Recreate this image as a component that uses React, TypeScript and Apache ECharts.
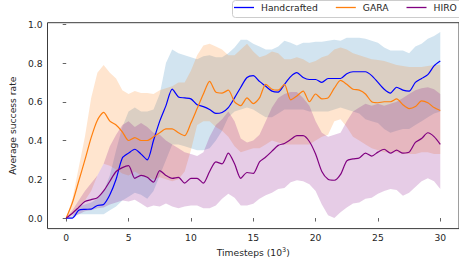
import { useEffect, useRef } from 'react';
import * as echarts from 'echarts';

// sample spacing along the x axis (thousands of timesteps)
const STEP = 0.5;
const X_TICKS = [0, 5, 10, 15, 20, 25, 30];
const Y_TICKS = [0, 0.2, 0.4, 0.6, 0.8, 1.0];
const NAMES = ['Handcrafted', 'GARA', 'HIRO'];

const HAND = [
  0, 0, 0.04, 0.045, 0.046, 0.065, 0.07, 0.12, 0.2, 0.31,
  0.335, 0.355, 0.33, 0.3, 0.4, 0.5, 0.58, 0.665, 0.625, 0.62,
  0.615, 0.585, 0.575, 0.56, 0.54, 0.545, 0.57, 0.62, 0.675, 0.725,
  0.735, 0.705, 0.68, 0.655, 0.65, 0.69, 0.73, 0.75, 0.725, 0.715,
  0.715, 0.7, 0.72, 0.72, 0.72, 0.745, 0.755, 0.755, 0.755, 0.735,
  0.7, 0.665, 0.645, 0.675, 0.66, 0.655, 0.7, 0.72, 0.74, 0.785, 0.81,
];
const HAND_HI = [
  0, 0.01, 0.06, 0.07, 0.08, 0.1, 0.14, 0.22, 0.35, 0.47,
  0.55, 0.57, 0.55, 0.55, 0.56, 0.64, 0.8, 0.87, 0.85, 0.84,
  0.83, 0.82, 0.835, 0.84, 0.83, 0.83, 0.85, 0.88, 0.92, 0.92,
  0.9, 0.885, 0.87, 0.87, 0.885, 0.915, 0.905, 0.89, 0.905, 0.905,
  0.91, 0.91, 0.915, 0.92, 0.915, 0.93, 0.93, 0.93, 0.925, 0.915,
  0.905, 0.88, 0.865, 0.865, 0.865, 0.85, 0.885, 0.9, 0.925, 0.94, 0.96,
];
const HAND_LO = [
  0, 0, 0.02, 0.02, 0.02, 0.02, 0.02, 0.04, 0.06, 0.09,
  0.11, 0.13, 0.12, 0.1, 0.14, 0.22, 0.3, 0.38, 0.38, 0.37,
  0.36, 0.35, 0.35, 0.36, 0.4, 0.45, 0.52, 0.55, 0.56, 0.57,
  0.56, 0.54, 0.52, 0.52, 0.54, 0.56, 0.56, 0.56, 0.56, 0.55,
  0.55, 0.55, 0.55, 0.56, 0.57, 0.56, 0.55, 0.54, 0.51, 0.5,
  0.49, 0.46, 0.44, 0.45, 0.46, 0.46, 0.48, 0.5, 0.52, 0.54, 0.55,
];

const GARA = [
  0, 0.08, 0.19, 0.3, 0.415, 0.505, 0.545, 0.5, 0.48, 0.445,
  0.4, 0.415, 0.4, 0.4, 0.42, 0.44, 0.46, 0.46, 0.44, 0.425,
  0.49, 0.565, 0.64, 0.705, 0.65, 0.645, 0.66, 0.6, 0.58, 0.62,
  0.59, 0.62, 0.69, 0.665, 0.66, 0.69, 0.61, 0.63, 0.655, 0.6,
  0.64, 0.615, 0.62, 0.67, 0.71, 0.69, 0.665, 0.66, 0.64, 0.6,
  0.595, 0.6, 0.6, 0.615, 0.585, 0.565, 0.575, 0.605, 0.595, 0.57, 0.555,
];
const GARA_HI = [
  0, 0.1, 0.26, 0.42, 0.62, 0.75, 0.79, 0.75, 0.72, 0.66,
  0.64, 0.655, 0.645, 0.645, 0.64, 0.66, 0.67, 0.68, 0.7, 0.7,
  0.76, 0.84, 0.89, 0.9, 0.885, 0.87, 0.84, 0.84, 0.87, 0.9,
  0.86, 0.83, 0.84, 0.86, 0.85, 0.82, 0.82, 0.83, 0.82, 0.8,
  0.81, 0.83, 0.84, 0.87, 0.88, 0.87, 0.85, 0.84, 0.83, 0.82,
  0.815, 0.81, 0.8, 0.79, 0.785, 0.78, 0.78, 0.78, 0.785, 0.79, 0.79,
];
const GARA_LO = [
  0, 0.02, 0.05, 0.09, 0.14, 0.22, 0.28, 0.27, 0.25, 0.23,
  0.22, 0.24, 0.22, 0.21, 0.2, 0.21, 0.2, 0.19, 0.2, 0.24,
  0.35, 0.48, 0.5, 0.5, 0.47, 0.45, 0.42, 0.37, 0.34, 0.35,
  0.36, 0.36, 0.38, 0.4, 0.39, 0.38, 0.38, 0.38, 0.38, 0.38,
  0.4, 0.42, 0.43, 0.5, 0.51, 0.47, 0.42, 0.4, 0.38, 0.36,
  0.35, 0.34, 0.34, 0.34, 0.33, 0.33, 0.33, 0.34, 0.34, 0.33, 0.33,
];

const HIRO = [
  0, 0.025, 0.055, 0.085, 0.095, 0.105, 0.14, 0.19, 0.24, 0.26,
  0.27, 0.205, 0.22, 0.21, 0.185, 0.245, 0.22, 0.205, 0.21, 0.18,
  0.205, 0.205, 0.18, 0.24, 0.29, 0.28, 0.335, 0.28, 0.205, 0.235,
  0.23, 0.29, 0.315, 0.345, 0.375, 0.385, 0.405, 0.425, 0.425, 0.395,
  0.33, 0.24, 0.2, 0.195, 0.225, 0.295, 0.305, 0.31, 0.335, 0.32,
  0.34, 0.355, 0.335, 0.35, 0.335, 0.34, 0.39, 0.41, 0.44, 0.42, 0.38,
];
const HIRO_HI = [
  0, 0.04, 0.09, 0.14, 0.18, 0.22, 0.28, 0.37, 0.43, 0.48,
  0.5, 0.47, 0.49, 0.47, 0.44, 0.43, 0.4, 0.38, 0.36, 0.34,
  0.33, 0.32, 0.34, 0.42, 0.48, 0.51, 0.55, 0.5, 0.41, 0.39,
  0.4, 0.43, 0.5, 0.57, 0.62, 0.64, 0.65, 0.65, 0.62, 0.58,
  0.5, 0.44, 0.42, 0.43, 0.44, 0.5, 0.55, 0.57, 0.59, 0.58,
  0.59, 0.58, 0.59, 0.6, 0.62, 0.64, 0.66, 0.67, 0.675, 0.665, 0.64,
];
const HIRO_LO = [
  0, 0.01, 0.02, 0.035, 0.04, 0.05, 0.055, 0.07, 0.08, 0.09,
  0.085, 0.095, 0.075, 0.055, 0.065, 0.06, 0.075, 0.06, 0.05, 0.06,
  0.065, 0.065, 0.05, 0.05, 0.065, 0.1, 0.125, 0.105, 0.065, 0.065,
  0.074, 0.1, 0.117, 0.13, 0.15, 0.155, 0.185, 0.195, 0.19, 0.175,
  0.14, 0.07, 0.015, 0, 0.03, 0.055, 0.075, 0.08, 0.1, 0.105,
  0.125, 0.14, 0.15, 0.145, 0.115, 0.13, 0.16, 0.19, 0.205, 0.19, 0.15,
];

const T = HAND.map((_, i) => i * STEP);

const FONT = 'DejaVu Sans';
const TEXT = '#262626';
const AXIS = '#3c3c3c';

function band(name: string, lo: number[], hi: number[], fill: string) {
  return {
    type: 'custom',
    name: name + ' band',
    silent: true,
    z: 1,
    clip: true,
    data: T.map((t, i) => [t, lo[i], hi[i]]),
    encode: { x: 0, y: [1, 2] },
    renderItem: (params: any, api: any) => {
      if (params.dataIndex !== 0) return null;
      const top = T.map((t, i) => api.coord([t, hi[i]]));
      const bot = T.map((t, i) => api.coord([t, lo[i]])).reverse();
      return {
        type: 'polygon',
        shape: { points: top.concat(bot), smooth: 0 },
        style: { fill, stroke: 'none' },
      };
    },
  };
}

function line(name: string, vals: number[], color: string) {
  return {
    type: 'line',
    name,
    z: 3,
    data: T.map((t, i) => [t, vals[i]]),
    symbol: 'none',
    smooth: 0.25,
    color,
    lineStyle: { color, width: 1.2 },
  };
}

export default function App() {
  const ref = useRef<HTMLDivElement>(null);
  useEffect(() => {
    if (!ref.current) return;
    const chart = echarts.init(ref.current, undefined, { renderer: 'svg' });
    chart.setOption({
      animation: false,
      backgroundColor: '#ffffff',
      textStyle: { fontFamily: FONT },
      grid: {
        left: 46,
        top: 22.7,
        right: -4,
        bottom: 32.7,
        show: true,
        borderColor: AXIS,
        borderWidth: 1,
        backgroundColor: 'transparent',
      },
      graphic: [
        {
          type: 'rect',
          z: 90,
          silent: true,
          shape: { x: 232.5, y: 0.5, width: 260, height: 17, r: 3 },
          style: { fill: 'rgba(255,255,255,0.85)', stroke: '#cccccc', lineWidth: 1 },
        },
      ],
      legend: {
        data: NAMES,
        left: 232,
        top: 0,
        z: 100,
        orient: 'horizontal',
        icon: 'rect',
        itemWidth: 20,
        itemHeight: 1.3,
        itemGap: 18,
        padding: [3, 0, 3, 2],
        borderWidth: 0,
        backgroundColor: 'transparent',
        textStyle: { fontFamily: FONT, fontSize: 9.2, color: TEXT, padding: [0, 0, 0, 2] },
      },
      xAxis: {
        type: 'value',
        min: -1.5,
        max: 31.5,
        name: 'Timesteps (10{sup|3})',
        nameLocation: 'middle',
        nameGap: 15,
        nameTextStyle: {
          fontFamily: FONT,
          fontSize: 9.2,
          color: TEXT,
          rich: { sup: { fontFamily: FONT, fontSize: 6.5, color: TEXT, verticalAlign: 'top', padding: [0, 0, 5, 0] } },
        },
        axisLine: { show: false },
        splitLine: { show: false },
        axisTick: { show: true, length: 3.5, lineStyle: { color: AXIS, width: 0.8 }, customValues: X_TICKS },
        axisLabel: {
          customValues: X_TICKS,
          formatter: (v: number) => String(v),
          fontFamily: FONT,
          fontSize: 9.2,
          color: TEXT,
          margin: 4,
        },
      },
      yAxis: {
        type: 'value',
        min: -0.0545,
        max: 1.008,
        name: 'Average success rate',
        nameLocation: 'middle',
        nameGap: 22,
        nameTextStyle: { fontFamily: FONT, fontSize: 9.2, color: TEXT },
        axisLine: { show: false },
        splitLine: { show: false },
        axisTick: { show: true, length: 3.5, lineStyle: { color: AXIS, width: 0.8 }, customValues: Y_TICKS },
        axisLabel: {
          customValues: Y_TICKS,
          formatter: (v: number) => v.toFixed(1),
          fontFamily: FONT,
          fontSize: 9.2,
          color: TEXT,
          margin: 5,
        },
      },
      series: [
        band('Handcrafted', HAND_LO, HAND_HI, 'rgba(31,119,180,0.2)'),
        band('GARA', GARA_LO, GARA_HI, 'rgba(255,127,14,0.2)'),
        band('HIRO', HIRO_LO, HIRO_HI, 'rgba(128,0,128,0.2)'),
        line('Handcrafted', HAND, '#0000ff'),
        line('GARA', GARA, '#ff7f0e'),
        line('HIRO', HIRO, '#800080'),
      ],
    });
    return () => chart.dispose();
  }, []);
  return (
    <div
      ref={ref}
      style={{ position: 'fixed', left: 0, top: 0, width: 459, height: 262, background: '#fff' }}
    />
  );
}
